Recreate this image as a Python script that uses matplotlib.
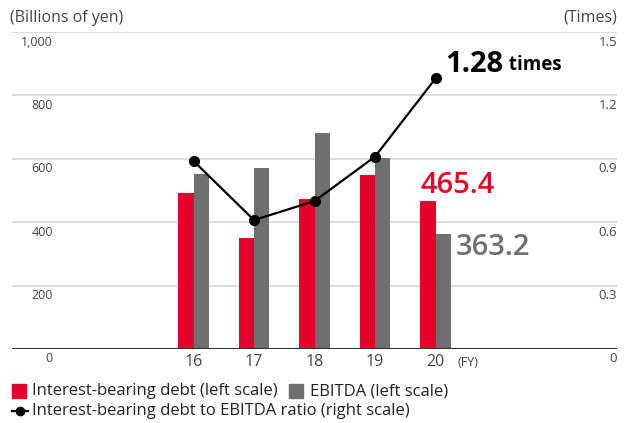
import matplotlib
matplotlib.use("Agg")
import matplotlib.pyplot as plt
from matplotlib.patches import Rectangle
from matplotlib.lines import Line2D

plt.rcParams['font.family'] = ['Open Sans', 'DejaVu Sans']

fiscal_years = ["16", "17", "18", "19", "20"]
debt = [491, 350, 472, 548, 465.4]          # billions of yen
ebitda = [551, 570, 680, 601, 363.2]        # billions of yen
ratio = [0.89, 0.61, 0.70, 0.91, 1.28]      # times

left_ticks = [0, 200, 400, 600, 800, 1000]
left_labels = ["0", "200", "400", "600", "800", "1,000"]
right_labels = ["0", "0.3", "0.6", "0.9", "1.2", "1.5"]

RED = "#e4002b"
GRAY = "#6f6f6f"
TXT = "#444444"

W, H = 627, 423
fig = plt.figure(figsize=(W / 100, H / 100), dpi=100)
ax = fig.add_axes([12 / W, 1 - 349 / H, 605 / W, 317 / H])
ax.set_xlim(0, 10)
ax.set_ylim(0, 1000)
ax.axis("off")
ax2 = ax.twinx()
ax2.set_ylim(0, 1.5)
ax2.axis("off")

# grid
for v in left_ticks[1:]:
    ax.axhline(v, color="#dcdcdc", lw=1.5, zorder=0)
ax.axhline(0, color="#333333", lw=1.5, zorder=3)

# tick labels
for v, lab in zip(left_ticks, left_labels):
    ax.annotate(lab, xy=(0, v), xycoords=("axes fraction", "data"),
                xytext=(41, -10 if v else -9), textcoords="offset pixels",
                ha="right", va="center", fontsize=9, color=TXT)
for v, lab in zip(left_ticks, right_labels):
    ax.annotate(lab, xy=(1, v), xycoords=("axes fraction", "data"),
                xytext=(0, -10 if v else -9), textcoords="offset pixels",
                ha="right", va="center", fontsize=9.5, color=TXT)

x = [3 + i for i in range(len(fiscal_years))]
bw = 0.25
ax.bar([xi - bw / 2 for xi in x], debt, width=bw, color=RED, zorder=2)
ax.bar([xi + bw / 2 for xi in x], ebitda, width=bw, color=GRAY, zorder=2)

for xi, lab in zip(x, fiscal_years):
    ax.annotate(lab, xy=(xi, 0), xycoords="data", xytext=(0, -13),
                textcoords="offset pixels", ha="center", va="center",
                fontsize=11.5, color=TXT)
ax.annotate("(FY)", xy=(x[-1], 0), xycoords="data", xytext=(32, -13),
            textcoords="offset pixels", ha="center", va="center",
            fontsize=9, color=TXT)

ax2.plot(x, ratio, color="black", lw=1.6, marker="o", ms=7, zorder=4)

# value callouts
ax.annotate(f"{debt[-1]:.1f}", xy=(x[-1] - bw / 2, debt[-1]), xycoords="data",
            xytext=(-7, 16), textcoords="offset pixels", ha="left", va="center",
            fontsize=21, fontweight="semibold", color=RED)
ax.annotate(f"{ebitda[-1]:.1f}", xy=(x[-1] + bw, ebitda[-1]), xycoords="data",
            xytext=(5, -14), textcoords="offset pixels", ha="left", va="center",
            fontsize=21, fontweight="semibold", color=GRAY)
t = ax2.annotate(f"{ratio[-1]:.2f}", xy=(x[-1], ratio[-1]), xycoords="data",
                 xytext=(10, 14), textcoords="offset pixels", ha="left", va="center",
                 fontsize=21, fontweight="bold", color="black")
ax2.annotate(" times", xy=(1, 0), xycoords=t, xytext=(0, 4),
             textcoords="offset pixels", ha="left", va="bottom",
             fontsize=13.5, fontweight="bold", color="black")

# axis titles
fig.text(10 / W, 1 - 18 / H, "(Billions of yen)", ha="left", va="center",
         fontsize=11.5, color=TXT)
fig.text(617 / W, 1 - 18 / H, "(Times)", ha="right", va="center",
         fontsize=11.5, color=TXT)

# legend
fig.patches.append(Rectangle((12 / W, 1 - 398 / H), 14 / W, 14 / H,
                             transform=fig.transFigure, color=RED))
fig.text(32 / W, 1 - 391 / H, "Interest-bearing debt (left scale)",
         ha="left", va="center", fontsize=12, color="#222222")
fig.patches.append(Rectangle((289 / W, 1 - 398 / H), 14 / W, 14 / H,
                             transform=fig.transFigure, color=GRAY))
fig.text(310 / W, 1 - 391 / H, "EBITDA (left scale)",
         ha="left", va="center", fontsize=12, color="#222222")
fig.lines.append(Line2D([12 / W, 28 / W], [1 - 411 / H] * 2, transform=fig.transFigure,
                        color="black", lw=1.6, marker=None))
fig.lines.append(Line2D([20 / W], [1 - 411 / H], transform=fig.transFigure,
                        color="black", marker="o", ms=6))
fig.text(32 / W, 1 - 411 / H, "Interest-bearing debt to EBITDA ratio (right scale)",
         ha="left", va="center", fontsize=12, color="#222222")

fig.savefig("out.png", dpi=100)
